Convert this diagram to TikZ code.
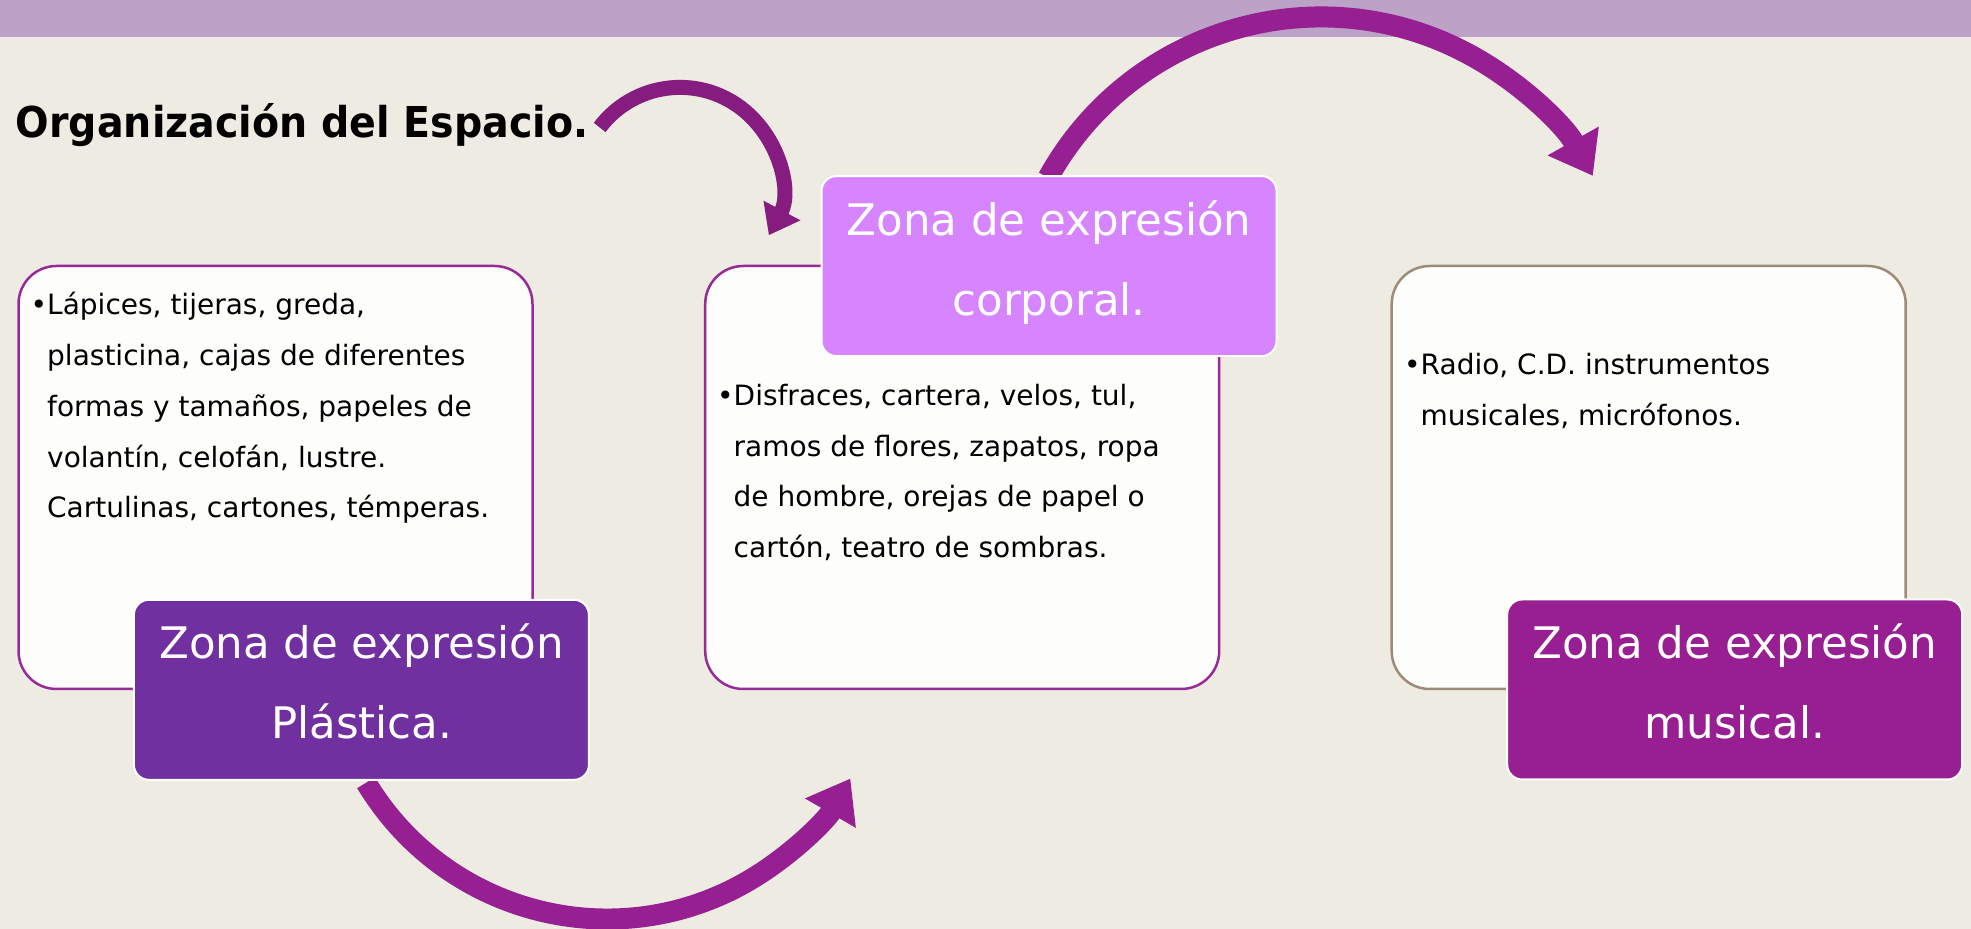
\documentclass[tikz,border=0pt]{standalone}
\usepackage{fontspec}
\setmainfont{DejaVu Sans}
\newfontfamily\titulofont[FakeStretch=0.93]{DejaVu Sans}
\usetikzlibrary{arrows.meta}

\definecolor{fondo}{HTML}{EEEBE3}
\definecolor{banda}{HTML}{BDA2C8}
\definecolor{blanco}{HTML}{FDFDFB}
\definecolor{lila}{HTML}{982A98}
\definecolor{taupe}{HTML}{9E8B77}
\definecolor{plastica}{HTML}{7030A0}
\definecolor{corporal}{HTML}{D685FF}
\definecolor{musical}{HTML}{981F92}
\definecolor{flechacol}{HTML}{961F92}
\definecolor{flechaosc}{HTML}{861C80}

\tikzset{
  caja/.style={rectangle, rounded corners=38, draw=#1, line width=2.5, fill=blanco,
    minimum width=514, minimum height=423, inner sep=0},
  zona/.style={rectangle, rounded corners=15, draw=white, line width=2, fill=#1,
    minimum width=455, minimum height=180, inner sep=0},
  zonatxt/.style={text=white, align=center, anchor=base, inner sep=0,
    font=\fontsize{43.5}{79.5}\selectfont},
  lista/.style={align=left, anchor=base west, inner sep=0,
    font=\fontsize{28}{50.75}\selectfont},
  flecha/.style={line width=21, draw=flechacol, -{Triangle[length=40pt, width=56pt]}},
  flechita/.style={line width=15, draw=flechaosc, -{Triangle[length=28pt, width=40pt]}}
}

\begin{document}
\begin{tikzpicture}[x=1pt, y=1pt]
\useasboundingbox (0,0) rectangle (1971,929);
\fill[fondo] (0,0) rectangle (1971,929);
\fill[banda] (0,892.3) rectangle (1971,929);

\node[anchor=base west, inner sep=0, font=\titulofont\bfseries\fontsize{42.5}{50}\selectfont] (titulo) at (15.7,791.3) {Organización del Espacio.};

% flechas
\coordinate (colaA) at ([shift={(143:100.6)}]680,741);
\draw[flechita] (colaA) arc[start angle=143, end angle=-28, radius=100.6];
\coordinate (colaB) at ([shift={(151:312)}]1321,600);
\draw[flecha] (colaB) arc[start angle=151, end angle=29.4, radius=312];
\coordinate (colaC) at ([shift={(211:281)}]607,291);
\draw[flecha] (colaC) arc[start angle=211, end angle=330, radius=281];

% cajas
\node[caja=lila] (cajaP) at (275.5,451.5) {};
\node[caja=lila] (cajaC) at (962.2,451.5) {};
\node[caja=taupe] (cajaM) at (1648.7,451.5) {};

\node[zona=plastica] (zonaP) at (361.4,239.2) {};
\node[zona=corporal] (zonaC) at (1049,662.9) {};
\node[zona=musical] (zonaM) at (1734.7,239.5) {};

% textos (anchor base = ultima linea)
\node[zonatxt] (txtP) at (361.6,190.7) {Zona de expresión\\Plástica.};
\node[zonatxt] (txtC) at (1049,613.8) {Zona de expresión\\corporal.};
\node[zonatxt] (txtM) at (1734.7,190.7) {Zona de expresión\\musical.};

\node[lista] (listaP) at (47,411) {\llap{\textbullet}Lápices, tijeras, greda,\\plasticina, cajas de diferentes\\formas y tamaños, papeles de\\volantín, celofán, lustre.\\Cartulinas, cartones, témperas.};
\node[lista] (listaC) at (733.5,371.4) {\llap{\textbullet}Disfraces, cartera, velos, tul,\\ramos de flores, zapatos, ropa\\de hombre, orejas de papel o\\cartón, teatro de sombras.};
\node[lista] (listaM) at (1420.5,503.3) {\llap{\textbullet}Radio, C.D. instrumentos\\musicales, micrófonos.};
\end{tikzpicture}
\end{document}
